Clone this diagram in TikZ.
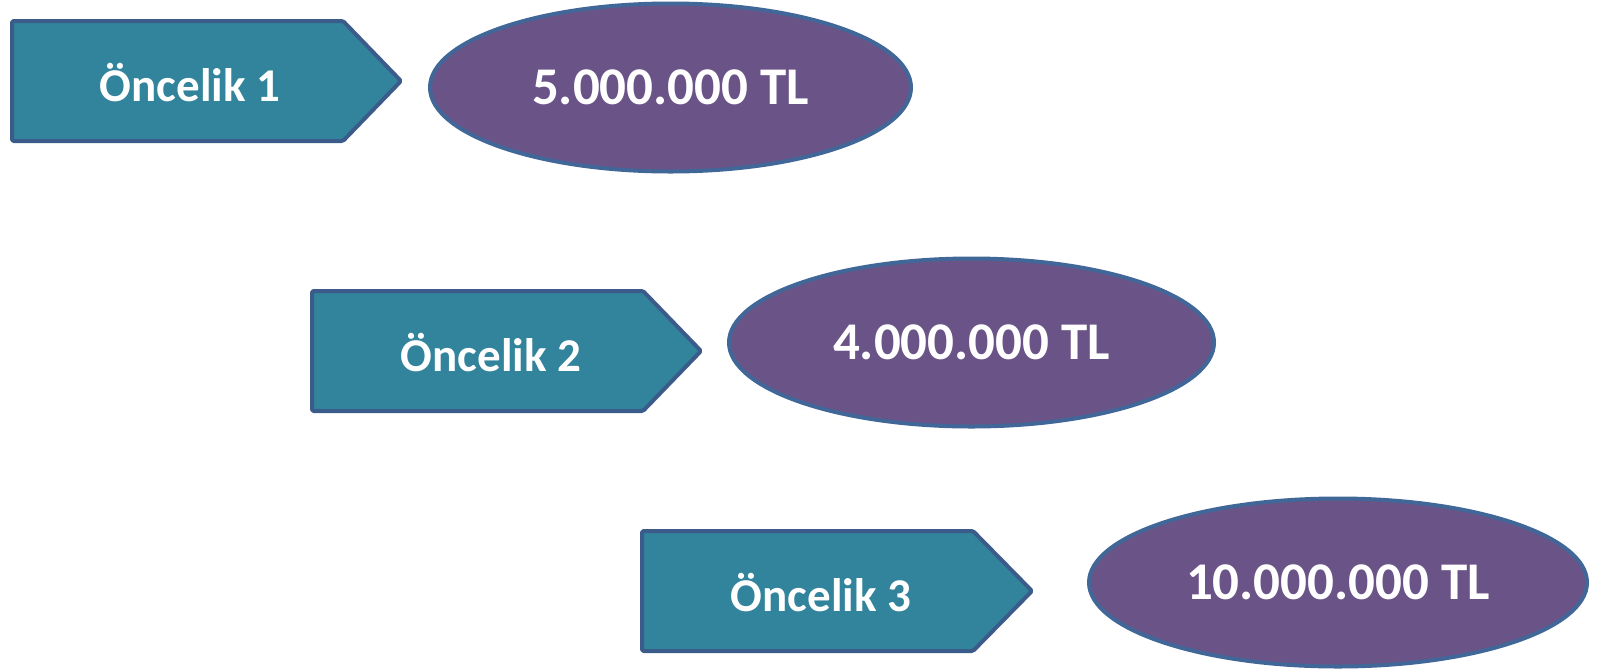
\documentclass[tikz,border=0pt]{standalone}
\usepackage{fontspec}
\setmainfont{Carlito}
\definecolor{tealfill}{HTML}{31849B}
\definecolor{purplefill}{HTML}{6A5387}
\definecolor{pentborder}{HTML}{3B5C8A}
\definecolor{ellborder}{HTML}{416798}
\tikzset{
  pent/.style={fill=tealfill, draw=pentborder, line width=4pt, line join=round, rounded corners=1.5pt},
  pentlabel/.style={text=white, font=\fontsize{47}{56}\selectfont\bfseries, inner sep=0pt, anchor=center},
  amount/.style={ellipse, fill=purplefill, draw=ellborder, line width=4pt, inner sep=0pt,
    minimum height=168pt, text=white, font=\fontsize{53}{62}\selectfont\bfseries}
}
\usetikzlibrary{shapes.geometric}
\begin{document}
\begin{tikzpicture}[x=1pt,y=-1pt]
\useasboundingbox (0,0) rectangle (1598,670);
% priority arrows
\draw[pent] (12,21) -- (343,21) -- (401,81) -- (343,141) -- (12,141) -- cycle;
\node[pentlabel] (p1) at (190,83) {Öncelik 1};
\draw[pent] (312,291) -- (643,291) -- (701,351) -- (643,411) -- (312,411) -- cycle;
\node[pentlabel] (p2) at (491,353) {Öncelik 2};
\draw[pent] (642,531) -- (973,531) -- (1032,591) -- (973,651) -- (642,651) -- cycle;
\node[pentlabel] (p3) at (821,593) {Öncelik 3};
% amounts
\node[amount, minimum width=481pt] (e1) at (670.5,87.5) {5.000.000 TL};
\node[amount, minimum width=485pt] (e2) at (971.5,342.5) {4.000.000 TL};
\node[amount, minimum width=498pt] (e3) at (1338,582.5) {10.000.000 TL};
\end{tikzpicture}
\end{document}
